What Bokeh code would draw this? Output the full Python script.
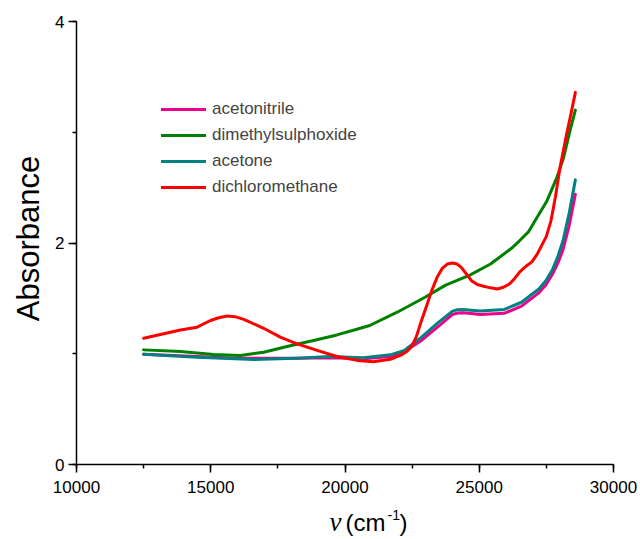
import math
from bokeh.plotting import figure
from bokeh.models import Range1d, SingleIntervalTicker, Legend, LegendItem, Label
from bokeh.embed import file_html
from bokeh.resources import INLINE

# ---- data ----
acetonitrile_x = [12500, 14490, 16000, 18210, 19500, 20700, 21690, 22210, 22850, 23490, 24005,
                  24200, 24390, 24700, 25035, 25930, 26575, 27220, 27480, 27730, 27930, 28120,
                  28350, 28580]
acetonitrile_y = [0.995, 0.975, 0.96, 0.96, 0.965, 0.955, 0.975, 1.02, 1.12, 1.25, 1.355,
                  1.368, 1.37, 1.363, 1.355, 1.365, 1.43, 1.55, 1.62, 1.72, 1.82, 1.94,
                  2.16, 2.44]

dmso_x = [12500, 13870, 15110, 16100, 16970, 17840, 18285, 18830, 19700, 20570, 20920, 21945,
          22980, 23750, 24650, 25420, 26190, 26500, 26830, 27050, 27520, 27890, 28140, 28385,
          28580]
dmso_y = [1.035, 1.02, 0.993, 0.984, 1.014, 1.065, 1.09, 1.12, 1.17, 1.23, 1.255, 1.375,
          1.51, 1.62, 1.71, 1.81, 1.95, 2.02, 2.10, 2.19, 2.38, 2.59, 2.77, 3.02,
          3.20]

acetone_x = [12500, 14490, 16600, 18210, 19450, 20690, 21690, 22210, 22850, 23490, 24005,
             24200, 24390, 24700, 25035, 25930, 26575, 27220, 27480, 27730, 27930, 28120,
             28350, 28580]
acetone_y = [0.996, 0.969, 0.948, 0.96, 0.975, 0.963, 0.99, 1.03, 1.15, 1.285, 1.385,
             1.398, 1.40, 1.393, 1.385, 1.40, 1.465, 1.585, 1.66, 1.76, 1.88, 2.02,
             2.27, 2.57]

dcm_x = [12500, 13250, 13870, 14490, 14990, 15300, 15610, 15900, 16230, 16970, 17590, 18210,
         18960, 19700, 20450, 21060, 21690, 22100, 22300, 22465, 22650, 22850, 23050, 23230,
         23430, 23620, 23810, 24005, 24170, 24330, 24520, 24710, 24930, 25160, 25420, 25675,
         25900, 26125, 26320, 26510, 26740, 26960, 27160, 27350, 27500, 27670, 27840, 28010,
         28130, 28260, 28420, 28580]
dcm_y = [1.14, 1.18, 1.215, 1.24, 1.30, 1.325, 1.34, 1.335, 1.31, 1.23, 1.15, 1.09,
         1.03, 0.975, 0.94, 0.927, 0.95, 0.99, 1.02, 1.06, 1.15, 1.30, 1.44, 1.57,
         1.69, 1.77, 1.81, 1.82, 1.81, 1.78, 1.72, 1.66, 1.625, 1.61, 1.595, 1.585,
         1.60, 1.63, 1.68, 1.74, 1.79, 1.83, 1.90, 1.99, 2.06, 2.20, 2.42, 2.685,
         2.83, 2.99, 3.17, 3.36]

series_names = ["acetonitrile", "dimethylsulphoxide", "acetone", "dichloromethane"]
series_colors = ["#EC008C", "#008000", "#008080", "#FF0000"]

x_start, x_end = 10000, 30000   # axis extent
y_start, y_end = 0, 4

FONT = "Liberation Sans"
W, H = 640, 539
# where the axes sit on the canvas (pixels)
AX_L, AX_R, AX_T, AX_B = 76, 613, 21, 464
ppx = (AX_R - AX_L) / (x_end - x_start)
ppy = (AX_B - AX_T) / (y_end - y_start)
# the frame covers the whole canvas so that titles can be drawn as labels
xr = Range1d(x_start - AX_L / ppx, x_end + (W - AX_R) / ppx)
yr = Range1d(y_start - (H - AX_B) / ppy, y_end + AX_T / ppy)

p = figure(width=W, height=H, output_backend="svg", toolbar_location=None,
           x_range=xr, y_range=yr,
           min_border_left=0, min_border_right=0, min_border_top=0, min_border_bottom=0)
p.outline_line_color = None
p.xgrid.visible = False
p.ygrid.visible = False
p.background_fill_color = "white"

renderers = []
for xs, ys, c in [(acetonitrile_x, acetonitrile_y, series_colors[0]),
                  (dmso_x, dmso_y, series_colors[1]),
                  (acetone_x, acetone_y, series_colors[2]),
                  (dcm_x, dcm_y, series_colors[3])]:
    r = p.line(xs, ys, line_color=c, line_width=3, line_join="round", line_cap="round")
    renderers.append(r)

# axes placed at the data origin
p.xaxis.fixed_location = y_start
p.yaxis.fixed_location = x_start
p.xaxis.bounds = (x_start, x_end)
p.yaxis.bounds = (y_start, y_end)
for ax in (p.xaxis[0], p.yaxis[0]):
    ax.axis_line_width = 1.5
    ax.axis_line_color = "black"
    ax.major_tick_line_width = 1.5
    ax.minor_tick_line_width = 1.5
    ax.major_tick_in = 0
    ax.major_tick_out = 8
    ax.minor_tick_in = 0
    ax.minor_tick_out = 4
    ax.major_label_text_font = FONT
    ax.major_label_text_font_size = "17px"
    ax.major_label_text_color = "black"

p.xaxis.ticker = SingleIntervalTicker(interval=5000, num_minor_ticks=2)
p.yaxis.ticker = SingleIntervalTicker(interval=2, num_minor_ticks=2)
p.xaxis.major_label_standoff = 8
p.yaxis.major_label_standoff = 4

def dx(px):
    return xr.start + px / ppx
def dy(py):
    return yr.end - py / ppy

# y axis title
p.add_layout(Label(x=dx(28), y=dy(238), text="Absorbance", angle=math.pi / 2,
                   text_font=FONT, text_font_size="31px", text_color="black",
                   text_align="center", text_baseline="alphabetic"))

# x axis title (italic nu, superscript -1)
title_parts = [
    ("ν", 329, 521, "Liberation Serif", "italic", "27px"),
    ("(cm", 345, 522, FONT, "normal", "24px"),
    ("-1", 387, 514, FONT, "normal", "14px"),
    (")", 399, 522, FONT, "normal", "24px"),
]
for txt, cx, cy, fnt, style, size in title_parts:
    p.add_layout(Label(x=dx(cx), y=dy(cy), text=txt,
                       text_font=fnt, text_font_style=style, text_font_size=size,
                       text_color="black", text_baseline="alphabetic"))

legend = Legend(items=[LegendItem(label=n, renderers=[r]) for n, r in zip(series_names, renderers)],
                location=(161, H - 200), padding=0, margin=0, spacing=0,
                label_height=26, glyph_height=20, glyph_width=45, label_standoff=6,
                label_text_font=FONT, label_text_font_size="17px",
                border_line_alpha=0, background_fill_alpha=0)
p.add_layout(legend)

open("out.html", "w").write(file_html(p, INLINE))
